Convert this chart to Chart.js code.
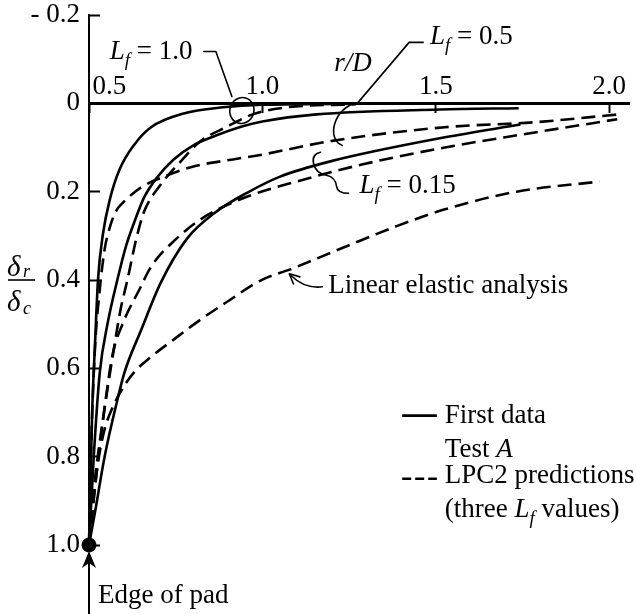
<!DOCTYPE html>
<html>
<head>
<meta charset="utf-8">
<title>Settlement profile beyond the pad edge</title>
<script src="https://cdn.jsdelivr.net/npm/chart.js@4.4.1/dist/chart.umd.min.js"></script>
<style>
  html, body { margin: 0; padding: 0; background: #fff; }
  #wrap { width: 637px; height: 614px; }
</style>
</head>
<body>
<div id="wrap"><canvas id="deflection" width="637" height="614"></canvas></div>
<script>
// ------------------------------------------------
//  δr/δc against r/D, first data from test A
//  and LPC2 predictions for three Lf values
// ------------------------------------------------

// first data, test A (solid)
const firstLf100R = [0.5, 0.509, 0.517, 0.526, 0.540, 0.560, 0.588, 0.631, 0.679, 0.773, 0.886, 1.0, 1.27, 1.753];
const firstLf100D = [1.0, 0.701, 0.551, 0.399, 0.297, 0.218, 0.150, 0.093, 0.054, 0.023, 0.009, 0.003, 0.001, 0.0];

const firstLf050R = [0.5, 0.514, 0.531, 0.554, 0.582, 0.608, 0.631, 0.659, 0.696, 0.744, 0.801, 0.866, 0.943, 1.0, 1.156, 1.511, 1.739];
const firstLf050D = [1.0, 0.796, 0.610, 0.497, 0.399, 0.320, 0.268, 0.213, 0.168, 0.127, 0.095, 0.073, 0.052, 0.041, 0.025, 0.014, 0.011];

const firstLf015R = [0.5, 0.517, 0.545, 0.582, 0.602, 0.651, 0.707, 0.781, 0.864, 0.957, 1.051, 1.193, 1.526, 1.744];
const firstLf015D = [1.0, 0.927, 0.800, 0.671, 0.610, 0.512, 0.406, 0.308, 0.247, 0.202, 0.166, 0.132, 0.077, 0.048];

// LPC2 predictions (dashed)
const lpcLf100R = [0.5, 0.517, 0.540, 0.568, 0.591, 0.611, 0.636, 0.659, 0.707, 0.764, 0.821, 0.895, 0.972, 1.071, 1.27];
const lpcLf100D = [1.0, 0.853, 0.717, 0.574, 0.467, 0.399, 0.308, 0.245, 0.184, 0.132, 0.086, 0.054, 0.025, 0.009, 0.002];

const lpcLf050R = [0.5, 0.506, 0.517, 0.531, 0.545, 0.560, 0.577, 0.599, 0.651, 0.716, 0.801, 0.915, 1.0, 1.193, 1.526, 1.781, 2.028];
const lpcLf050D = [1.0, 0.785, 0.558, 0.422, 0.331, 0.281, 0.245, 0.224, 0.190, 0.166, 0.143, 0.127, 0.116, 0.086, 0.054, 0.043, 0.025];

const lpcLf015R = [0.5, 0.523, 0.548, 0.568, 0.602, 0.645, 0.679, 0.750, 0.835, 0.957, 1.099, 1.290, 1.526, 1.753, 2.023];
const lpcLf015D = [1.0, 0.830, 0.671, 0.569, 0.490, 0.422, 0.370, 0.308, 0.256, 0.211, 0.177, 0.138, 0.100, 0.070, 0.036];

// linear elastic analysis (dashed)
const elasticR = [0.5, 0.523, 0.543, 0.565, 0.594, 0.631, 0.679, 0.744, 0.821, 0.895, 1.0, 1.080, 1.241, 1.384, 1.526, 1.733, 1.972];
const elasticD = [1.0, 0.830, 0.744, 0.694, 0.649, 0.608, 0.574, 0.535, 0.490, 0.451, 0.399, 0.376, 0.324, 0.279, 0.240, 0.200, 0.177];

// edge of pad
const padEdgeR = [0.5];
const padEdgeD = [1.0];

// axis ticks
const rTicks = [0.5, 1.0, 1.5, 2.0];
const dTicks = [-0.2, 0, 0.2, 0.4, 0.6, 0.8, 1.0];

const SERIF = "'Liberation Serif', 'Times New Roman', serif";
const INK   = '#000';
const DASH  = [14, 7];
const TEXT  = 27;

const zip = (xs, ys) => xs.map((x, i) => ({ x, y: ys[i] }));

function curve(xs, ys, dashed) {
  return {
    data: zip(xs, ys),
    showLine: true,
    borderColor: INK,
    borderWidth: 2.6,
    borderDash: dashed ? DASH : [],
    pointRadius: 0,
    cubicInterpolationMode: 'monotone',
    fill: false,
    clip: false,
  };
}

const datasets = [
  curve(elasticR, elasticD, true),
  curve(lpcLf015R, lpcLf015D, true),
  curve(lpcLf050R, lpcLf050D, true),
  curve(lpcLf100R, lpcLf100D, true),
  curve(firstLf015R, firstLf015D, false),
  curve(firstLf050R, firstLf050D, false),
  curve(firstLf100R, firstLf100D, false),
  {
    data: zip(padEdgeR, padEdgeD),
    showLine: false,
    pointRadius: 7,
    pointBackgroundColor: INK,
    pointBorderColor: INK,
    clip: false,
  },
];

//  TEXT HELPERS
//  runs: [text, italic, subscript]

function fontOf(size, italic) {
  return `${italic ? 'italic ' : ''}${size}px ${SERIF}`;
}

function drawRuns(ctx, runs, x, y, size = TEXT) {
  let cx = x;
  for (const [t, it, sub] of runs) {
    ctx.font = fontOf(sub ? Math.round(size * 0.7) : size, it);
    ctx.fillText(t, cx, sub ? y + 7 : y);
    cx += ctx.measureText(t).width;
  }
  return cx;
}

const LF = (rest) => [['L', 1], ['f', 1, 1], [rest]];

// labels placed in data units (r/D, δr/δc), baseline-left
const notes = [
  { at: [0.560, -0.100], runs: LF(' = 1.0') },
  { at: [1.207, -0.073], runs: [['r/D', 1]] },
  { at: [1.483, -0.134], runs: LF(' = 0.5') },
  { at: [1.280,  0.202], runs: LF(' = 0.15') },
  { at: [1.190,  0.429], runs: [['Linear elastic analysis']] },
  { at: [1.526,  0.723], runs: [['First data']] },
  { at: [1.526,  0.800], runs: [['Test '], ['A', 1]] },
  { at: [1.526,  0.859], runs: [['LPC2 predictions']] },
  { at: [1.526,  0.937], runs: [['(three '], ['L', 1], ['f', 1, 1], [' values)']] },
  { at: [0.526,  1.131], runs: [['Edge of pad']] },
];

function barb(ctx, tipX, tipY, dx, dy, len) {
  // open arrowhead pointing along (dx, dy)
  const a = Math.atan2(dy, dx);
  ctx.beginPath();
  ctx.moveTo(tipX - len * Math.cos(a - 0.45), tipY - len * Math.sin(a - 0.45));
  ctx.lineTo(tipX, tipY);
  ctx.lineTo(tipX - len * Math.cos(a + 0.45), tipY - len * Math.sin(a + 0.45));
  ctx.stroke();
}

const notesPlugin = {
  id: 'notes',
  afterDraw(chart) {
    const { ctx, scales: { x, y } } = chart;
    const px = v => x.getPixelForValue(v);
    const py = v => y.getPixelForValue(v);

    ctx.save();
    ctx.fillStyle = INK;
    ctx.strokeStyle = INK;
    ctx.textAlign = 'left';
    ctx.textBaseline = 'alphabetic';
    ctx.lineCap = 'round';
    ctx.lineJoin = 'round';

    notes.forEach(n => drawRuns(ctx, n.runs, px(n.at[0]), py(n.at[1])));

    ctx.lineWidth = 1.6;

    // Lf = 1.0 : leader and loop
    let ax = px(0.935), ay = py(0.014);
    ctx.beginPath();
    ctx.moveTo(ax - 36, ay - 58);
    ctx.lineTo(ax - 24, ay - 58);
    ctx.lineTo(ax - 8, ay - 13);
    ctx.stroke();
    ctx.beginPath();
    ctx.ellipse(ax + 2, ay + 1, 12, 13, 0.3, 0, Math.PI * 2);
    ctx.stroke();

    // Lf = 0.5 : leader and bracket
    ax = px(1.227); ay = py(0.025);
    ctx.beginPath();
    ctx.moveTo(ax + 82, ay - 72);
    ctx.lineTo(ax + 68, ay - 72);
    ctx.lineTo(ax + 17, ay - 12);
    ctx.bezierCurveTo(ax - 8, ay - 7, ax - 15, ay + 25, ax + 1, ay + 31);
    ctx.stroke();

    // Lf = 0.15 : bracket to label
    ax = px(1.156); ay = py(0.138);
    ctx.beginPath();
    ctx.moveTo(ax + 4, ay - 12);
    ctx.quadraticCurveTo(ax - 5, ay - 10, ax - 3, ay - 1);
    ctx.quadraticCurveTo(ax - 1, ay + 9, ax + 10, ay + 11);
    ctx.quadraticCurveTo(ax + 19, ay + 13, ax + 20, ay + 22);
    ctx.quadraticCurveTo(ax + 21, ay + 29, ax + 32, ay + 29);
    ctx.stroke();

    // linear elastic analysis : curved arrow
    ax = px(1.190); ay = py(0.429);
    ctx.beginPath();
    ctx.moveTo(ax - 6, ay - 6);
    ctx.quadraticCurveTo(ax - 24, ay - 4, ax - 37, ay - 17);
    ctx.stroke();
    barb(ctx, ax - 39, ay - 19, -1, -0.9, 11);

    // legend samples
    const l0 = px(1.403), l1 = px(1.503);
    ctx.lineWidth = 2.6;
    ctx.lineCap = 'butt';
    ctx.beginPath();
    ctx.moveTo(l0, py(0.707));
    ctx.lineTo(l1, py(0.707));
    ctx.stroke();
    ctx.setLineDash([9, 4]);
    ctx.beginPath();
    ctx.moveTo(l0, py(0.850));
    ctx.lineTo(l1, py(0.850));
    ctx.stroke();
    ctx.setLineDash([]);

    // edge of pad arrow
    const ex = px(0.5), ey = py(1.0);
    ctx.lineWidth = 2;
    ctx.beginPath();
    ctx.moveTo(ex, chart.height);
    ctx.lineTo(ex, ey + 14);
    ctx.stroke();
    ctx.beginPath();
    ctx.moveTo(ex, ey + 6);
    ctx.lineTo(ex - 7, ey + 23);
    ctx.lineTo(ex, ey + 18);
    ctx.lineTo(ex + 7, ey + 23);
    ctx.closePath();
    ctx.fill();

    // y title as a fraction: δr / δc
    const fy = py(0.4);
    ctx.font = fontOf(29, true);
    ctx.fillText('δ', 7, fy - 4);
    ctx.fillText('δ', 7, fy + 31);
    ctx.font = fontOf(18, true);
    ctx.fillText('r', 23, fy - 3);
    ctx.fillText('c', 23, fy + 34);
    ctx.lineWidth = 1.6;
    ctx.beginPath();
    ctx.moveTo(8, fy);
    ctx.lineTo(35, fy);
    ctx.stroke();

    ctx.restore();
  },
};

new Chart(document.getElementById('deflection'), {
  type: 'scatter',
  data: { datasets },
  options: {
    responsive: false,
    animation: false,
    devicePixelRatio: 1,
    layout: { padding: { top: 15, bottom: 69, left: 0, right: 0 } },
    plugins: {
      legend:  { display: false },
      tooltip: { enabled: false },
    },
    scales: {
      x: {
        type: 'linear',
        position: { y: 0 },
        min: 0.5,
        max: 2.057,
        afterBuildTicks: s => { s.ticks = rTicks.map(value => ({ value })); },
        afterFit: s => { s.paddingLeft = 0; s.paddingRight = 0; },
        border: { display: true, color: INK, width: 3 },
        grid: { drawOnChartArea: false, tickColor: INK, tickWidth: 2, tickLength: 8 },
        ticks: {
          color: INK,
          font: { family: SERIF, size: TEXT },
          padding: -41,
          maxRotation: 0,
          autoSkip: false,
          // the 0.5 label sits to the right of the vertical axis
          callback: v => (v === 0.5 ? '      0.5' : v.toFixed(1)),
        },
      },
      y: {
        type: 'linear',
        reverse: true,
        min: -0.2,
        max: 1.0,
        afterBuildTicks: s => { s.ticks = dTicks.map(value => ({ value })); },
        afterFit: s => { s.width = 89; s.paddingTop = 0; s.paddingBottom = 0; },
        border: { display: true, color: INK, width: 2 },
        grid: { drawOnChartArea: false, tickColor: INK, tickWidth: 2, tickLength: -11 },
        ticks: {
          color: INK,
          font: { family: SERIF, size: TEXT },
          padding: 20,
          autoSkip: false,
          callback: v => (v === 0 ? '0' : v < 0 ? '- ' + Math.abs(v).toFixed(1) : v.toFixed(1)),
        },
      },
    },
  },
  plugins: [notesPlugin],
});
</script>
</body>
</html>
